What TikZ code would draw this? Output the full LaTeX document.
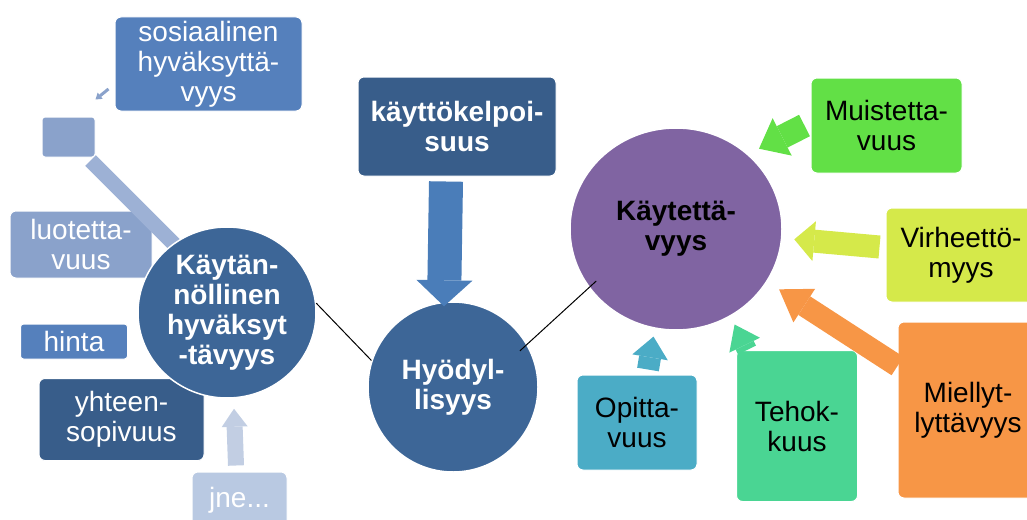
\documentclass[tikz,border=0pt]{standalone}
\usepackage{fontspec}
\setmainfont{Liberation Sans}
\usetikzlibrary{arrows.meta,shapes.geometric}

\definecolor{blueA}{HTML}{5580BC}
\definecolor{blueL}{HTML}{8AA2CB}
\definecolor{blueB}{HTML}{9DB1D5}
\definecolor{blueD}{HTML}{385D8A}
\definecolor{blueC}{HTML}{3D6697}
\definecolor{blueX}{HTML}{B9C9E2}
\definecolor{blueU}{HTML}{C2CEE3}
\definecolor{blueArr}{HTML}{4A7DB9}
\definecolor{violet}{HTML}{8064A2}
\definecolor{greenM}{HTML}{62E046}
\definecolor{limeV}{HTML}{D5E94A}
\definecolor{orangeM}{HTML}{F79646}
\definecolor{tealO}{HTML}{4BACC6}
\definecolor{mintT}{HTML}{4AD593}

\begin{document}
\begin{tikzpicture}[x=1pt, y=-1pt, font=\fontsize{28}{30}\selectfont,
  box/.style={rectangle, rounded corners=6pt, draw=white, line width=1pt, align=center, inner sep=0pt},
  ball/.style={ellipse, draw=white, line width=1.5pt, align=center, inner sep=0pt, font=\fontsize{28}{30}\selectfont\bfseries},
  blk/.style n args={3}{line width=#1, -{Triangle[width=#2, length=#3, line width=0pt]}}]
  \useasboundingbox (0,0) rectangle (1027,519);
  \clip (0,0) rectangle (1027,519);
  % left group
  \node[box, fill=blueA, text=white, minimum width=187, minimum height=94] (sosi) at (208.5,64) {sosiaalinen\\hyväksyttä-\\vyys};
  \node[box, rounded corners=3pt, fill=blueL, minimum width=53, minimum height=40] (sq) at (68.5,137) {};
  \node[box, fill=blueL, text=white, minimum width=142, minimum height=67] (luot) at (81,244.5) {luotetta-\\vuus};
  \node[box, rounded corners=3pt, fill=blueA, text=white, minimum width=107, minimum height=35] (hinta) at (74,341.5) {hinta};
  \node[box, fill=blueD, text=white, minimum width=165, minimum height=82] (yhteen) at (121.5,419.5) {yhteen-\\sopivuus};
  \node[box, fill=blueX, text=white, minimum width=95, minimum height=56] (jne) at (239.5,500) {jne...};
  \coordinate (barend) at (180,250);
  \draw[blueB, line width=15pt] ([xshift=-5pt,yshift=-3pt]sq.south east) -- (barend);
  \node[ball, fill=blueC, text=white, minimum width=178, minimum height=171] (kaytan) at (227,312.5) {Käytän-\\nöllinen\\hyväksyt\\-tävyys};
  % middle
  \node[box, fill=blueD, text=white, font=\fontsize{28}{30}\selectfont\bfseries, minimum width=198, minimum height=99] (kaytto) at (457,126.5) {käyttökelpoi-\\suus};
  \node[ball, fill=blueC, text=white, minimum width=170, minimum height=170] (hyod) at (453,387) {Hyödyl-\\lisyys};
  % right group
  \node[ball, fill=violet, minimum width=212, minimum height=202] (kaytetta) at (676,229) {Käytettä-\\vyys};
  \node[box, fill=greenM, minimum width=151, minimum height=95] (muist) at (886.5,125.5) {Muistetta-\\vuus};
  \node[box, fill=limeV, minimum width=150, minimum height=94] (virhe) at (961,255) {Virheettö-\\myys};
  \node[box, fill=orangeM, minimum width=140, minimum height=176] (mielly) at (968,410) {Miellyt-\\lyttävyys};
  \node[box, fill=tealO, minimum width=120, minimum height=95] (opitta) at (637,422.5) {Opitta-\\vuus};
  \node[box, fill=mintT, minimum width=121, minimum height=151] (teho) at (797,426) {Tehok-\\kuus};
  % block arrows
  \draw[blk={3pt}{8pt}{6pt}, blueL] ([xshift=-6pt,yshift=-25pt]sosi.west) -- ([yshift=17pt]sq.north east);
  \draw[blk={16pt}{26pt}{18pt}, blueU] ([xshift=-3.5pt,yshift=6pt]jne.north) -- ([xshift=7pt,yshift=-10pt]kaytan.south);
  \draw[blk={34pt}{56pt}{26pt}, blueArr] ([xshift=-11pt,yshift=-5pt]kaytto.south) -- ([xshift=-9pt,yshift=-5pt]hyod.north);
  \draw[blk={24pt}{42pt}{26pt}, greenM, shorten >=12pt] ([xshift=-6pt]muist.west) -- (kaytetta.46);
  \draw[blk={23pt}{40pt}{20pt}, limeV, shorten >=12pt] ([xshift=-6pt,yshift=8pt]virhe.west) -- (kaytetta.355);
  \draw[blk={22pt}{40pt}{30pt}, orangeM, shorten >=14pt] ([yshift=44pt]mielly.west) -- (kaytetta.330);
  \draw[blk={22pt}{36pt}{21pt}, tealO, shorten >=8pt] ([xshift=11pt,yshift=5pt]opitta.north) -- (kaytetta.258);
  \draw[blk={20pt}{34pt}{23pt}, mintT, shorten >=9pt] ([xshift=-50pt]teho.north) -- (kaytetta.302);
  % thin links
  \draw[line width=1pt] (kaytan.6) -- (hyod.162);
  \draw[line width=1pt, shorten <=-10pt, shorten >=-10pt] (hyod.30) -- (kaytetta.214);
\end{tikzpicture}
\end{document}
